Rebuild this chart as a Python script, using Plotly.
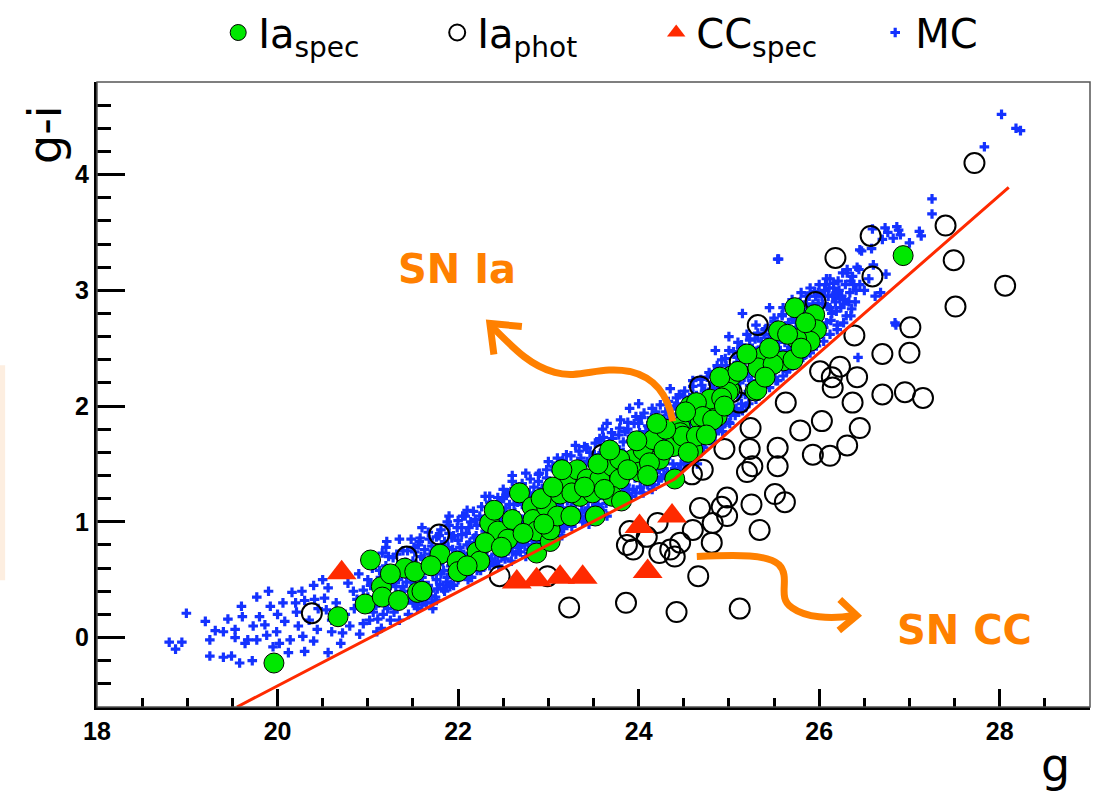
import plotly.graph_objects as go

# ---------------- data ----------------
# Monte-Carlo SN Ia cloud (g, g-i)
mc_left = [
    (18.80, -0.04), (18.87, -0.10), (18.94, -0.04), (18.99, 0.21), (19.20, 0.14), (19.25, -0.02),
    (19.31, 0.06), (19.25, -0.16), (19.40, -0.17), (19.49, -0.16), (19.58, -0.22), (19.72, -0.20),
    (19.45, 0.16), (19.61, 0.18), (19.40, 0.05), (19.53, 0.07), (19.64, -0.05), (19.53, 0.00),
    (19.73, 0.10), (19.77, 0.35), (19.67, -0.02), (19.77, -0.02), (19.80, 0.18), (19.86, 0.11),
    (19.92, 0.27), (19.99, 0.05), (19.95, -0.08), (20.06, 0.30), (20.08, 0.14), (20.16, 0.39),
    (20.14, -0.02), (20.12, -0.13), (20.27, 0.40), (20.21, 0.22), (20.23, 0.10), (20.28, 0.01),
    (20.30, -0.12), (20.41, 0.33), (20.44, 0.07), (20.50, 0.50), (20.52, 0.34), (20.54, 0.24),
    (20.56, -0.13), (20.56, 0.43), (20.72, 0.04), (20.91, 0.03), (20.78, 0.47), (20.84, 0.40),
    (20.95, 0.41), (20.88, 0.33), (21.06, 0.22), (21.11, 0.16), (21.21, 0.83), (21.16, 0.73),
    (21.28, 0.69), (21.28, 0.50), (21.39, 0.44), (21.50, 0.30), (19.60, 0.27), (19.90, 0.40),
    (20.00, 0.20), (20.20, 0.30), (20.35, 0.15), (20.40, 0.45), (20.45, 0.25), (20.60, 0.15),
    (20.65, 0.30), (20.70, 0.55), (20.75, 0.20), (20.80, 0.10), (20.85, 0.25), (20.90, 0.55),
    (21.00, 0.35), (21.00, 0.50), (21.05, 0.60), (20.60, 0.05), (20.30, 0.32), (20.02, -0.05),
    (19.88, 0.02), (20.40, -0.03), (20.70, -0.05), (21.15, 0.08), (20.95, 0.12),
]
mc_band1 = [
    (21.12, 0.30), (21.14, 0.52), (21.18, 0.40), (21.20, 0.62), (21.22, 0.25), (21.25, 0.45),
    (21.27, 0.58), (21.30, 0.35), (21.32, 0.72), (21.34, 0.50), (21.36, 0.28), (21.38, 0.62),
    (21.40, 0.40), (21.42, 0.55), (21.44, 0.75), (21.46, 0.33), (21.48, 0.48), (21.50, 0.66),
    (21.52, 0.42), (21.54, 0.58), (21.56, 0.80), (21.58, 0.36), (21.60, 0.52), (21.62, 0.68),
    (21.64, 0.45), (21.66, 0.60), (21.68, 0.85), (21.70, 0.40), (21.72, 0.55), (21.74, 0.72),
    (21.76, 0.50), (21.78, 0.64), (21.80, 0.46), (21.82, 0.80), (21.84, 0.58), (21.86, 0.70),
    (21.88, 0.52), (21.90, 0.90), (21.92, 0.62), (21.94, 0.76), (21.96, 0.55), (21.98, 0.68),
    (22.00, 0.84), (22.02, 0.60), (22.04, 0.95), (22.06, 0.72), (22.08, 0.56), (22.10, 0.80),
    (22.12, 0.66), (22.14, 1.00), (22.16, 0.74), (22.18, 0.62), (22.20, 0.88), (22.22, 0.70),
    (22.24, 1.05), (22.26, 0.78), (22.28, 0.64), (22.30, 0.92), (21.25, 0.15), (21.45, 0.20),
    (21.65, 0.30), (21.85, 0.40), (21.60, 0.95), (22.10, 1.10), (21.95, 0.45), (22.15, 0.52),
    (21.35, 0.85), (21.75, 0.35), (22.25, 0.58), (21.55, 0.25),
]
mc_band1b = [
    (21.03, 0.45), (21.07, 0.70), (21.09, 0.28), (21.13, 0.58), (21.17, 0.20), (21.19, 0.50),
    (21.21, 0.35), (21.23, 0.70), (21.26, 0.55), (21.29, 0.22), (21.31, 0.44), (21.33, 0.62),
    (21.37, 0.40), (21.39, 0.75), (21.41, 0.30), (21.43, 0.48), (21.47, 0.60), (21.49, 0.40),
    (21.51, 0.78), (21.53, 0.30), (21.57, 0.50), (21.59, 0.70), (21.61, 0.35), (21.63, 0.58),
    (21.67, 0.45), (21.69, 0.72), (21.71, 0.30), (21.73, 0.62), (21.77, 0.42), (21.79, 0.88),
    (21.81, 0.55), (21.83, 0.66), (21.87, 0.48), (21.89, 0.78), (21.91, 0.44), (21.93, 0.86),
    (21.97, 0.60), (21.99, 0.95), (22.01, 0.52), (22.03, 0.74), (22.07, 0.66), (22.09, 0.90),
    (22.11, 0.50), (22.13, 0.82), (22.17, 0.68), (22.19, 1.02), (22.21, 0.58), (22.23, 0.80),
    (22.27, 0.72), (22.29, 1.00), (21.58, 0.86), (21.88, 1.00), (22.05, 1.05), (21.42, 0.65),
    (21.72, 0.25), (21.20, 0.78), (21.48, 0.85), (21.02, 0.15), (21.10, 0.05), (21.35, 0.15),
]
mc_band2 = [
    (22.32, 0.70), (22.34, 0.98), (22.36, 1.15), (22.38, 0.80), (22.40, 0.64), (22.42, 0.90),
    (22.44, 1.08), (22.46, 0.75), (22.48, 0.98), (22.50, 1.20), (22.52, 0.68), (22.54, 0.86),
    (22.56, 1.05), (22.58, 0.78), (22.60, 0.95), (22.62, 1.15), (22.64, 0.72), (22.66, 0.88),
    (22.68, 1.28), (22.70, 1.02), (22.72, 0.82), (22.74, 0.95), (22.76, 1.18), (22.78, 0.76),
    (22.80, 1.08), (22.82, 0.90), (22.84, 1.30), (22.86, 0.85), (22.88, 1.00), (22.90, 1.16),
    (22.92, 0.82), (22.94, 1.25), (22.96, 0.94), (22.98, 1.38), (23.00, 1.10), (23.02, 0.88),
    (23.04, 1.22), (23.06, 1.02), (23.08, 1.44), (23.10, 0.92), (23.12, 1.15), (23.14, 1.32),
    (23.16, 0.98), (23.18, 1.24), (23.20, 1.50), (23.22, 1.05), (23.24, 1.36), (23.26, 0.96),
    (23.28, 1.18), (23.30, 1.45), (23.32, 1.08), (23.34, 1.28), (23.36, 1.55), (23.38, 1.00),
    (23.40, 1.22), (23.42, 1.40), (23.44, 1.12), (23.46, 1.60), (23.48, 1.30), (23.50, 1.05),
    (23.52, 1.48), (23.54, 1.20), (23.56, 1.36), (23.58, 1.70), (23.60, 1.10), (23.62, 1.55),
    (23.64, 1.28), (23.66, 1.44), (23.68, 1.18), (23.70, 1.62), (23.72, 1.35), (23.74, 1.50),
    (23.76, 1.15), (23.78, 1.75), (23.80, 1.42), (23.82, 1.25), (23.84, 1.58), (23.86, 1.32),
    (23.88, 1.80), (23.90, 1.48), (23.92, 1.22), (23.94, 1.66), (23.96, 1.38), (23.98, 1.55),
    (24.00, 1.85), (24.02, 1.30), (24.04, 1.62), (24.06, 1.45), (24.08, 1.78), (24.10, 1.34),
    (24.12, 1.58), (24.14, 1.90), (24.16, 1.42), (24.18, 1.70), (24.20, 1.52), (24.22, 1.36),
    (24.24, 1.84), (24.26, 1.60), (24.28, 1.46), (24.30, 1.95), (22.45, 0.62), (22.65, 1.22),
    (22.85, 0.78), (23.05, 1.48), (23.25, 1.12), (23.45, 0.98), (23.65, 1.62), (23.85, 1.15),
    (24.05, 1.25), (24.25, 1.72), (22.55, 1.25), (22.75, 0.70), (23.15, 0.88), (23.35, 1.35),
    (23.55, 1.02), (23.75, 1.42), (23.95, 1.70), (24.15, 1.28), (22.95, 1.05), (23.65, 1.05),
    (22.60, 1.35), (23.57, 1.72), (24.00, 2.02), (23.10, 1.55), (22.35, 1.22),
]
mc_band2b = [
    (22.31, 0.85), (22.33, 1.05), (22.35, 0.62), (22.37, 0.92), (22.39, 1.10), (22.41, 0.72),
    (22.43, 1.00), (22.45, 0.85), (22.47, 1.18), (22.49, 0.70), (22.51, 0.92), (22.53, 1.12),
    (22.55, 0.76), (22.57, 1.00), (22.59, 0.66), (22.61, 0.86), (22.63, 1.08), (22.65, 0.80),
    (22.67, 1.00), (22.69, 0.74), (22.71, 1.15), (22.73, 0.88), (22.75, 1.05), (22.77, 0.84),
    (22.79, 1.25), (22.81, 0.98), (22.83, 0.80), (22.85, 1.12), (22.87, 0.94), (22.89, 1.35),
    (22.91, 1.05), (22.93, 0.90), (22.95, 1.18), (22.97, 0.84), (22.99, 1.00), (23.01, 1.30),
    (23.03, 0.95), (23.05, 1.15), (23.07, 0.86), (23.09, 1.28), (23.11, 1.05), (23.13, 1.40),
    (23.15, 1.12), (23.17, 0.94), (23.19, 1.36), (23.21, 1.18), (23.23, 1.00), (23.25, 1.46),
    (23.27, 1.25), (23.29, 1.05), (23.31, 1.35), (23.33, 1.18), (23.35, 1.50), (23.37, 1.10),
    (23.39, 1.30), (23.41, 1.05), (23.43, 1.52), (23.45, 1.25), (23.47, 1.42), (23.49, 1.12),
    (23.51, 1.58), (23.53, 1.32), (23.55, 1.15), (23.57, 1.45), (23.59, 1.25), (23.61, 1.62),
    (23.63, 1.40), (23.65, 1.20), (23.67, 1.55), (23.69, 1.30), (23.71, 1.72), (23.73, 1.22),
    (23.75, 1.58), (23.77, 1.38), (23.79, 1.62), (23.81, 1.20), (23.83, 1.48), (23.85, 1.78),
    (23.87, 1.55), (23.89, 1.28), (23.91, 1.70), (23.93, 1.45), (23.95, 1.85), (23.97, 1.25),
    (23.99, 1.62), (24.01, 1.48), (24.03, 1.90), (24.05, 1.72), (24.07, 1.35), (24.09, 1.60),
    (24.11, 1.82), (24.13, 1.50), (24.15, 1.68), (24.17, 1.32), (24.19, 1.95), (24.21, 1.62),
    (24.23, 1.45), (24.25, 1.88), (24.27, 1.70), (24.29, 1.40), (23.20, 1.58), (23.40, 1.65),
    (23.60, 1.80), (23.80, 1.88), (22.70, 1.30), (22.90, 1.42), (23.00, 1.52), (22.50, 1.28),
]
mc_band3 = [
    (24.32, 1.38), (24.34, 1.62), (24.36, 1.85), (24.38, 1.50), (24.40, 2.00), (24.42, 1.70),
    (24.44, 1.45), (24.46, 1.92), (24.48, 1.58), (24.50, 2.08), (24.52, 1.80), (24.54, 1.52),
    (24.56, 1.98), (24.58, 1.66), (24.60, 2.10), (24.62, 1.58), (24.64, 1.86), (24.66, 2.05),
    (24.68, 1.72), (24.70, 2.18), (24.72, 1.64), (24.74, 1.95), (24.76, 2.25), (24.78, 1.80),
    (24.80, 2.08), (24.82, 1.70), (24.84, 2.30), (24.86, 1.92), (24.88, 2.15), (24.90, 1.82),
    (24.92, 2.40), (24.94, 2.02), (24.96, 1.86), (24.98, 2.25), (25.00, 2.48), (25.02, 1.92),
    (25.04, 2.12), (25.06, 2.35), (25.08, 1.98), (25.10, 2.55), (25.12, 2.20), (25.14, 2.02),
    (25.16, 2.42), (25.18, 2.10), (25.20, 2.62), (25.22, 2.28), (25.24, 2.08), (25.26, 2.50),
    (25.28, 2.18), (25.30, 2.70), (25.32, 2.35), (25.34, 2.14), (25.36, 2.56), (25.38, 2.25),
    (25.40, 2.66), (25.42, 2.40), (25.44, 2.20), (25.46, 2.58), (25.48, 2.30), (25.50, 2.76),
    (25.52, 2.48), (25.54, 2.22), (25.56, 2.65), (25.58, 2.38), (25.60, 2.85), (25.62, 2.55),
    (25.64, 2.30), (25.66, 2.72), (25.68, 2.45), (25.70, 2.92), (25.72, 2.62), (25.74, 2.36),
    (25.76, 2.80), (25.78, 2.50), (25.80, 2.98), (25.82, 2.70), (25.84, 2.44), (25.86, 2.88),
    (25.88, 2.58), (25.90, 3.02), (25.92, 2.78), (25.94, 2.52), (25.96, 2.95), (25.98, 2.66),
    (26.00, 3.05), (24.35, 1.75), (24.55, 1.72), (24.75, 2.00), (24.95, 2.15), (25.15, 2.30),
    (25.35, 2.45), (25.55, 2.55), (25.75, 2.68), (25.95, 2.82), (24.45, 2.10), (24.65, 1.50),
    (24.85, 1.78), (25.05, 1.95), (25.25, 2.15), (25.45, 2.32), (25.65, 2.48), (25.85, 2.60),
    (25.15, 2.80), (25.45, 2.85), (25.55, 3.27), (24.60, 2.22), (25.00, 2.60), (25.30, 2.40),
    (25.70, 2.75), (25.90, 2.55),
]
mc_band3b = [
    (24.31, 1.55), (24.33, 1.88), (24.37, 1.65), (24.39, 1.42), (24.41, 1.82), (24.43, 2.02),
    (24.47, 1.65), (24.49, 1.85), (24.51, 1.50), (24.53, 1.95), (24.57, 1.85), (24.59, 1.55),
    (24.61, 1.95), (24.63, 1.72), (24.67, 1.92), (24.69, 1.60), (24.71, 2.05), (24.73, 1.82),
    (24.77, 2.12), (24.79, 1.70), (24.81, 1.95), (24.83, 2.20), (24.87, 1.80), (24.89, 2.28),
    (24.91, 2.05), (24.93, 1.78), (24.97, 2.35), (24.99, 2.05), (25.01, 1.85), (25.03, 2.30),
    (25.07, 2.15), (25.09, 2.42), (25.11, 1.95), (25.13, 2.50), (25.17, 2.25), (25.19, 2.00),
    (25.21, 2.45), (25.23, 2.18), (25.27, 2.35), (25.29, 2.58), (25.31, 2.10), (25.33, 2.48),
    (25.37, 2.30), (25.39, 2.62), (25.41, 2.22), (25.43, 2.52), (25.47, 2.40), (25.49, 2.70),
    (25.51, 2.30), (25.53, 2.60), (25.57, 2.48), (25.59, 2.78), (25.61, 2.42), (25.63, 2.68),
    (25.67, 2.55), (25.69, 2.85), (25.71, 2.50), (25.73, 2.75), (25.77, 2.60), (25.79, 2.90),
    (25.81, 2.55), (25.83, 2.82), (25.87, 2.70), (25.89, 2.95), (25.91, 2.62), (25.93, 2.88),
    (25.97, 2.75), (25.99, 2.98), (26.01, 2.78), (26.03, 2.95), (26.05, 2.68), (26.07, 3.05),
    (26.09, 2.86), (26.11, 3.02), (26.13, 2.74), (26.17, 2.96), (26.19, 2.82), (26.21, 3.08),
    (26.25, 2.95), (26.29, 3.05), (26.33, 2.90), (26.37, 3.12), (26.41, 3.00), (26.44, 3.18),
]
mc_upper = [
    (21.52, 0.74), (21.57, 0.83), (21.63, 0.76), (21.67, 0.91), (21.71, 0.79), (21.76, 0.87),
    (21.81, 0.93), (21.85, 0.83), (21.90, 0.97), (21.95, 0.88), (22.00, 1.01), (22.04, 0.89),
    (22.08, 1.05), (22.12, 0.95), (22.17, 1.09), (22.21, 0.97), (22.26, 1.13), (22.30, 1.01),
    (22.35, 1.17), (22.39, 1.05), (22.44, 1.21), (22.48, 1.09), (22.53, 1.23), (22.57, 1.15),
    (22.62, 1.29), (22.66, 1.17), (22.71, 1.33), (22.75, 1.21), (22.80, 1.37), (22.84, 1.23),
    (22.89, 1.41), (22.93, 1.29), (22.98, 1.45), (23.02, 1.33), (23.07, 1.48), (23.11, 1.37),
    (23.16, 1.53), (23.20, 1.41), (23.25, 1.57), (23.29, 1.45), (23.34, 1.61), (23.38, 1.49),
    (23.43, 1.64), (23.47, 1.53), (23.52, 1.68), (23.56, 1.57), (23.61, 1.73), (23.65, 1.61),
    (23.70, 1.77), (23.74, 1.65), (23.79, 1.81), (23.83, 1.69), (23.88, 1.86), (23.92, 1.74),
    (23.97, 1.91), (24.01, 1.77), (24.06, 1.94), (24.10, 1.83), (24.15, 1.98), (24.19, 1.85),
    (24.24, 2.01), (24.28, 1.89), (24.33, 2.04), (24.37, 1.93), (24.42, 2.07), (24.46, 1.97),
    (24.51, 2.13), (24.55, 2.03), (24.60, 2.17), (24.64, 2.09), (24.69, 2.23), (24.73, 2.13),
    (24.78, 2.29), (24.82, 2.19), (24.87, 2.35), (24.91, 2.25), (24.96, 2.41), (25.00, 2.31),
    (25.05, 2.47), (25.09, 2.37), (25.14, 2.53), (25.18, 2.43), (25.23, 2.57), (25.27, 2.47),
    (25.32, 2.63), (25.36, 2.51), (25.41, 2.67), (25.45, 2.59), (25.50, 2.73), (25.54, 2.63),
    (25.59, 2.79), (25.63, 2.69), (25.68, 2.85), (25.72, 2.75), (25.77, 2.89), (25.81, 2.81),
    (25.86, 2.95), (25.90, 2.85), (25.95, 2.99), (25.99, 2.89), (22.30, 1.22), (22.75, 1.42),
    (23.30, 1.66), (23.90, 1.98), (24.35, 2.15), (24.85, 2.48), (22.60, 1.40), (23.65, 1.85),
    (21.90, 1.05),
]
mc_lower = [
    (21.52, 0.30), (21.60, 0.28), (21.68, 0.36), (21.76, 0.32), (21.84, 0.42), (21.92, 0.46),
    (22.00, 0.50), (22.07, 0.55), (22.14, 0.52), (22.22, 0.60), (22.30, 0.62), (22.37, 0.68),
    (22.44, 0.66), (22.52, 0.72), (22.60, 0.74), (22.67, 0.78), (22.74, 0.80), (22.82, 0.84),
    (22.90, 0.86), (22.97, 0.90), (23.04, 0.92), (23.12, 0.96), (23.20, 0.98), (23.27, 1.02),
    (23.34, 1.04), (23.42, 1.08), (23.50, 1.10), (23.57, 1.12), (23.64, 1.16), (23.72, 1.18),
    (23.80, 1.22), (23.87, 1.24), (23.94, 1.28), (24.02, 1.30), (24.10, 1.32), (24.17, 1.36),
    (24.25, 1.38), (24.32, 1.42), (24.40, 1.46), (24.47, 1.50), (24.55, 1.54), (24.62, 1.62),
    (24.70, 1.66), (24.77, 1.72), (24.85, 1.76), (24.92, 1.82), (25.00, 1.86), (25.07, 1.92),
    (25.15, 1.96), (25.22, 2.02), (25.30, 2.06), (25.37, 2.12), (25.45, 2.16), (25.52, 2.22),
    (25.60, 2.26), (25.67, 2.32), (25.75, 2.36), (25.82, 2.42), (25.90, 2.46), (25.97, 2.52),
    (26.05, 2.56), (26.12, 2.62), (26.20, 2.66), (26.27, 2.72), (26.35, 2.78),
]
mc_mid = [
    (22.02, 0.78), (22.18, 0.86), (22.33, 0.94), (22.47, 1.02), (22.63, 0.92), (22.78, 1.12),
    (22.93, 1.08), (23.08, 1.20), (23.23, 1.28), (23.38, 1.38), (23.53, 1.40), (23.68, 1.48),
    (23.83, 1.60), (23.98, 1.66), (24.13, 1.76), (24.28, 1.78), (24.43, 1.88), (24.58, 1.95),
    (24.73, 2.05), (24.88, 2.10), (25.03, 2.20), (25.18, 2.32), (25.33, 2.40), (25.48, 2.50),
    (25.63, 2.60), (25.78, 2.70), (25.93, 2.80), (22.10, 0.70), (22.25, 0.78), (22.40, 0.82),
    (22.55, 0.90), (22.70, 0.96), (22.85, 1.02), (23.00, 1.00), (23.15, 1.10), (23.30, 1.16),
    (23.45, 1.20), (23.60, 1.30), (23.75, 1.34), (23.90, 1.40), (24.05, 1.52), (24.20, 1.58),
    (24.35, 1.66), (24.50, 1.74), (24.65, 1.80), (24.80, 1.90), (24.95, 1.98), (25.10, 2.08),
    (25.25, 2.22), (25.40, 2.30), (25.55, 2.40), (25.70, 2.52), (25.85, 2.62), (26.00, 2.70),
]
mc_band4 = [
    (26.02, 2.62), (26.04, 2.88), (26.06, 3.00), (26.08, 2.72), (26.10, 2.95), (26.12, 3.10),
    (26.14, 2.80), (26.16, 3.06), (26.18, 2.90), (26.20, 2.70), (26.22, 3.00), (26.24, 2.85),
    (26.26, 3.15), (26.28, 2.92), (26.30, 2.78), (26.31, 3.15), (26.34, 2.98), (26.36, 2.84),
    (26.38, 3.05), (26.40, 2.90), (26.42, 3.20), (26.45, 3.35), (26.47, 3.34), (26.50, 3.00),
    (26.55, 3.10), (26.58, 3.36), (26.60, 3.22), (26.62, 2.95), (26.68, 2.98), (26.70, 3.44),
    (26.73, 3.54), (26.74, 3.14), (26.76, 3.50), (26.82, 3.45), (26.85, 2.70), (26.86, 3.55),
    (26.88, 3.52), (26.90, 3.48), (27.00, 3.41), (27.11, 3.51), (27.13, 3.47), (26.59, 3.53),
    (26.08, 3.10), (26.16, 3.02), (26.31, 3.18), (26.23, 2.93), (26.20, 2.98), (26.27, 2.88),
    (26.15, 2.95), (26.35, 3.08), (26.12, 2.85), (26.45, 3.05), (26.43, 2.42), (26.84, 2.72),
    (25.54, 3.27),
]
mc_tail = [(27.25, 3.79), (27.25, 3.66), (27.83, 4.24), (28.02, 4.52), (28.18, 4.40), (28.23, 4.38)]

# Photometrically classified SN Ia candidates
phot_g = [27.72, 27.40, 26.57, 26.18, 27.49, 26.59, 28.06, 27.51, 27.01, 26.39,
          25.32, 25.96, 26.70, 27.00, 26.01, 26.23, 26.14, 26.15, 26.42, 26.70,
          26.95, 27.15, 26.37, 25.63, 26.03, 25.79, 26.45, 25.24, 24.95, 25.23,
          25.54, 25.93, 26.12, 26.31, 25.26, 25.54, 24.68, 24.71, 25.12, 25.03,
          25.12, 24.59, 25.20, 25.51, 25.62, 25.25, 24.98, 24.92, 24.98, 24.68,
          24.82, 25.34, 24.60, 24.46, 24.35, 24.40, 24.23, 24.21, 24.09, 23.90,
          23.87, 23.94, 24.81, 24.66, 22.99, 22.46, 23.23, 23.86, 24.42, 25.12,
          23.60, 21.79, 21.43, 20.38]
phot_gi = [4.10, 3.56, 3.47, 3.28, 3.26, 3.12, 3.04, 2.86, 2.68, 2.61,
           2.70, 2.90, 2.45, 2.46, 2.30, 2.34, 2.25, 2.16, 2.25, 2.10,
           2.12, 2.07, 2.03, 2.03, 1.87, 1.79, 1.81, 1.81, 1.63, 1.63,
           1.64, 1.58, 1.57, 1.66, 1.48, 1.48, 2.17, 1.45, 2.38, 2.12,
           2.03, 1.41, 1.43, 1.24, 1.17, 1.15, 1.21, 1.13, 1.05, 1.12,
           0.99, 0.93, 0.93, 0.82, 0.76, 0.70, 0.73, 0.99, 0.87, 0.92,
           0.80, 0.76, 0.82, 0.53, 0.53, 0.53, 0.26, 0.30, 0.22, 0.25,
           1.58, 0.89, 0.70, 0.21]

# Spectroscopically confirmed SN Ia
spec_g = [19.96, 20.67, 21.03, 20.97, 21.15, 21.16, 21.34, 21.41, 21.52, 21.55,
          21.60, 21.80, 21.99, 22.00, 22.21, 22.24, 22.35, 22.44, 22.55, 22.68,
          22.82, 22.83, 22.87, 22.87, 23.02, 22.98, 23.13, 23.20, 23.32, 23.43,
          23.35, 23.49, 23.57, 23.71, 23.79, 23.71, 23.81, 23.94, 24.05, 24.16,
          24.01, 24.23, 24.38, 24.40, 24.46, 23.02, 23.26, 23.79, 24.46, 24.57,
          24.68, 24.60, 24.87, 24.79, 25.01, 25.29, 25.73, 25.95, 25.97, 25.90,
          25.75, 25.60, 25.71, 25.38, 25.32, 25.49, 25.31, 25.03, 24.99, 24.92,
          24.64, 24.71, 24.82, 24.49, 24.64, 24.12, 26.93,
          22.30, 22.48, 22.60, 22.72, 22.92, 23.05, 23.10, 23.25, 23.40, 23.55,
          23.62, 23.88, 23.98, 24.10, 24.28, 24.30, 24.52, 24.75, 24.90, 25.10,
          25.20, 25.45, 25.55, 25.85, 25.65, 23.15, 22.95, 23.68, 24.20, 24.55,
          21.70, 21.25, 22.10, 23.52, 24.95, 25.40, 25.80, 22.40]
spec_gi = [-0.22, 0.18, 0.67, 0.29, 0.44, 0.35, 0.32, 0.60, 0.57, 0.39,
           0.40, 0.72, 0.66, 0.57, 0.74, 0.66, 0.99, 0.92, 0.85, 1.25,
           1.13, 1.02, 0.92, 0.73, 0.83, 1.13, 1.24, 1.37, 1.45, 1.37,
           1.22, 1.25, 1.37, 1.48, 1.37, 1.22, 1.18, 1.54, 1.62, 1.71,
           1.43, 1.54, 1.65, 1.37, 1.82, 0.93, 1.25, 1.54, 1.77, 2.00,
           1.88, 1.62, 1.91, 2.06, 2.14, 2.13, 2.85, 2.79, 2.66, 2.56,
           2.58, 2.39, 2.40, 2.43, 2.33, 2.36, 2.14, 2.26, 2.12, 2.07,
           2.03, 1.91, 1.88, 1.74, 1.74, 1.51, 3.30,
           0.82, 0.78, 1.02, 0.90, 1.20, 1.30, 1.05, 1.05, 1.30, 1.50,
           1.28, 1.45, 1.70, 1.40, 1.62, 1.80, 1.95, 1.75, 2.25, 2.30,
           2.45, 2.50, 2.65, 2.72, 2.62, 1.45, 0.98, 1.62, 1.85, 1.60,
           0.62, 0.55, 0.62, 1.05, 2.00, 2.25, 2.50, 1.10]

# Spectroscopically confirmed core-collapse SNe
cc_g = [20.71, 22.65, 22.87, 23.13, 23.38, 24.01, 24.37, 24.10]
cc_gi = [0.56, 0.48, 0.50, 0.52, 0.52, 0.96, 1.05, 0.57]

# Selection cut (red line)
cut_g = [19.55, 24.40, 28.10]
cut_gi = [-0.60, 1.37, 3.89]

x_ticks = [18, 20, 22, 24, 26, 28]
y_ticks = [0, 1, 2, 3, 4]

mc_points = (mc_left + mc_band1 + mc_band1b + mc_band2 + mc_band2b + mc_band3 + mc_band3b
             + mc_upper + mc_lower + mc_mid + mc_band4 + mc_tail)
mc_g = [p[0] for p in mc_points]
mc_gi = [p[1] for p in mc_points]

# ---------------- figure ----------------
TXT = "DejaVu Sans"
NUM = "Liberation Sans, Arial, sans-serif"
ORANGE = "#ff8000"

fig = go.Figure()
fig.add_trace(go.Scatter(
    x=mc_g, y=mc_gi, mode="markers", name="MC", legendrank=4,
    marker=dict(symbol="cross", size=8, color="#1432ff", line=dict(width=0)),
))
fig.add_trace(go.Scatter(
    x=phot_g, y=phot_gi, mode="markers", name="Ia<sub>phot</sub>", legendrank=2,
    marker=dict(symbol="circle-open", size=20, color="black", line=dict(width=2, color="black")),
))
fig.add_trace(go.Scatter(
    x=spec_g, y=spec_gi, mode="markers", name="Ia<sub>spec</sub>", legendrank=1,
    marker=dict(symbol="circle", size=20, color="#00e800", line=dict(width=1, color="black")),
))
fig.add_trace(go.Scatter(
    x=cc_g, y=cc_gi, mode="markers", name="CC<sub>spec</sub>", legendrank=3,
    marker=dict(symbol="triangle-up", size=26, color="#ff2a00", line=dict(width=0)),
))
fig.add_trace(go.Scatter(
    x=cut_g, y=cut_gi, mode="lines", showlegend=False,
    line=dict(color="#ff2a00", width=3),
))


# decoration helpers (pixel -> data coords)
def gx(px):
    return 18 + (px - 97) / 90.3


def gy(py):
    return (638 - py) / 115.7


def path(cmds):
    out = []
    for c in cmds:
        if isinstance(c, str):
            out.append(c)
        else:
            out.append(f"{gx(c[0]):.4f},{gy(c[1]):.4f}")
    return " ".join(out)


ia_curve = path(["M", (673, 422), "C", (668, 395), (655, 378), (630, 372),
                 "C", (600, 366), (580, 380), (555, 373),
                 "C", (530, 366), (515, 350), (492, 327)])
ia_head = path(["M", (522, 327), "L", (490, 324), "L", (494, 355)])
cc_curve = path(["M", (697, 557), "C", (740, 555), (768, 555), (779, 565),
                 "C", (792, 578), (776, 598), (792, 608),
                 "C", (806, 618), (830, 620), (854, 616)])
cc_head = path(["M", (840, 600), "L", (857, 616), "L", (839, 631)])

shapes = [
    dict(type="path", path=ia_curve, xref="x", yref="y", line=dict(color=ORANGE, width=7)),
    dict(type="path", path=ia_head, xref="x", yref="y", line=dict(color=ORANGE, width=7)),
    dict(type="path", path=cc_curve, xref="x", yref="y", line=dict(color=ORANGE, width=7)),
    dict(type="path", path=cc_head, xref="x", yref="y", line=dict(color=ORANGE, width=7)),
    dict(type="rect", xref="paper", yref="paper", x0=0, x1=1, y0=0, y1=1,
         line=dict(color="#555555", width=1.5), layer="above"),
    dict(type="rect", xref="paper", yref="paper", x0=-0.0977, x1=-0.0925, y0=0.203, y1=0.547,
         line=dict(width=0), fillcolor="#fdeee0", layer="below"),
]

annotations = [
    dict(text="SN Ia", x=gx(457), y=gy(270), xref="x", yref="y", showarrow=False,
         font=dict(family=TXT, size=40, color=ORANGE, weight="bold")),
    dict(text="SN CC", x=gx(965), y=gy(630), xref="x", yref="y", showarrow=False,
         font=dict(family=TXT, size=40, color=ORANGE, weight="bold")),
    dict(text="g-i", x=(45 - 97) / 993, y=(707 - 135) / 625, xref="paper", yref="paper",
         xanchor="center", yanchor="middle",
         showarrow=False, textangle=-90, font=dict(family=TXT, size=46, color="black")),
    dict(text="g", x=(1055 - 97) / 993, y=(707 - 765) / 625, xref="paper", yref="paper",
         xanchor="center", yanchor="middle",
         showarrow=False, font=dict(family=TXT, size=46, color="black")),
]

fig.update_layout(
    width=1102, height=801,
    margin=dict(l=97, r=12, t=82, b=94),
    paper_bgcolor="white", plot_bgcolor="white",
    shapes=shapes, annotations=annotations,
    showlegend=True,
    legend=dict(orientation="h", xref="container", yref="container",
                x=0.198, y=1.0, xanchor="left", yanchor="top",
                font=dict(family=TXT, size=40, color="black"),
                entrywidth=174, entrywidthmode="pixels", itemsizing="trace",
                bgcolor="rgba(0,0,0,0)", borderwidth=0),
    xaxis=dict(range=[18, 29], tickvals=x_ticks, ticks="inside", ticklen=18, tickwidth=2.5,
               tickcolor="black", showline=True, linewidth=3, linecolor="black",
               showgrid=False, zeroline=False,
               tickfont=dict(family=NUM, size=25, color="black", weight="bold"),
               minor=dict(dtick=0.5, ticks="inside", ticklen=9, tickwidth=2.5, tickcolor="black",
                          showgrid=False)),
    yaxis=dict(range=[-0.6, 4.8], tickvals=y_ticks, ticks="inside", ticklen=28, tickwidth=2.5,
               tickcolor="black", showline=True, linewidth=3, linecolor="black",
               showgrid=False, zeroline=False,
               tickfont=dict(family=NUM, size=25, color="black", weight="bold"),
               minor=dict(dtick=0.2, ticks="inside", ticklen=14, tickwidth=2.5, tickcolor="black",
                          showgrid=False)),
)

fig.write_html("out.html")
